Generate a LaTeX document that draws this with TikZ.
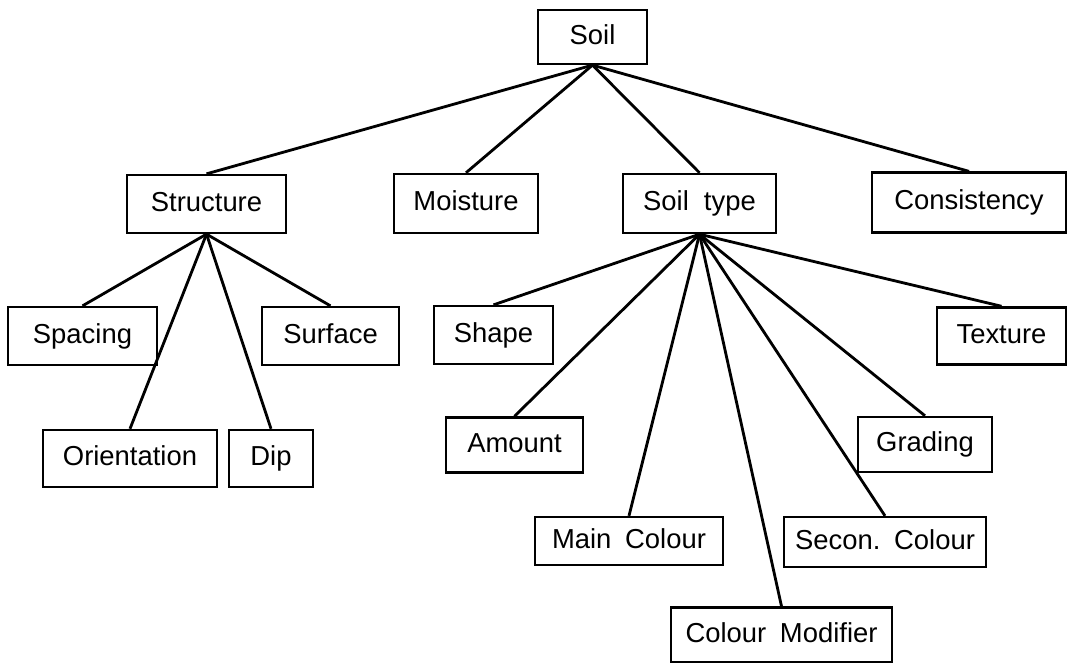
\documentclass[tikz,border=0pt]{standalone}
\usepackage{fontspec}
\setmainfont{Liberation Sans}
\begin{document}
\begin{tikzpicture}[x=0.025cm,y=-0.025cm,
    box/.style={draw,line width=1.6pt,inner sep=0pt,text height=14pt,text depth=4pt,
        font=\fontsize{19.5}{23}\selectfont},
    link/.style={line width=2pt}]
\useasboundingbox (0,0) rectangle (1071,663);
% top level
\node[box,minimum width=2.73cm,minimum height=1.35cm] (soil) at (592.5,37) {Soil};
% second level
\node[box,minimum width=3.98cm,minimum height=1.45cm] (struct) at (206.5,204) {Structure};
\node[box,minimum width=3.6cm,minimum height=1.48cm] (moist) at (466,203.5) {Moisture};
\node[box,minimum width=3.83cm,minimum height=1.48cm] (stype) at (699.5,203.5) {Soil\hspace{0.55em}type};
\node[box,minimum width=4.85cm,minimum height=1.5cm] (consist) at (969,202.5) {Consistency};
% under Structure
\node[box,minimum width=3.73cm,minimum height=1.45cm] (spacing) at (82.5,336) {Spacing};
\node[box,minimum width=3.43cm,minimum height=1.45cm] (surface) at (330.5,336) {Surface};
\node[box,minimum width=4.35cm,minimum height=1.43cm] (orient) at (130,458.5) {Orientation};
\node[box,minimum width=2.1cm,minimum height=1.43cm] (dip) at (271,458.5) {Dip};
% under Soil type
\node[box,minimum width=2.98cm,minimum height=1.45cm] (shape) at (493.5,335) {Shape};
\node[box,minimum width=3.23cm,minimum height=1.43cm] (texture) at (1001.5,336) {Texture};
\node[box,minimum width=3.43cm,minimum height=1.38cm] (amount) at (514.5,445) {Amount};
\node[box,minimum width=3.35cm,minimum height=1.38cm] (grading) at (925,444.5) {Grading};
\node[box,minimum width=4.7cm,minimum height=1.2cm] (maincol) at (629,541) {Main\hspace{0.5em}Colour};
\node[box,minimum width=5.05cm,minimum height=1.25cm] (seccol) at (885,542) {Secon.\hspace{0.5em}Colour};
\node[box,minimum width=5.53cm,minimum height=1.38cm] (colmod) at (781.5,635) {Colour\hspace{0.5em}Modifier};
% connectors
\foreach \c in {struct,moist,stype,consist}
    \draw[link] (soil.south) -- (\c.north);
\foreach \c in {spacing,orient,dip,surface}
    \draw[link] (struct.south) -- (\c.north);
\foreach \c in {shape,amount,maincol,colmod,seccol,grading,texture}
    \draw[link] (stype.south) -- (\c.north);
\end{tikzpicture}
\end{document}
